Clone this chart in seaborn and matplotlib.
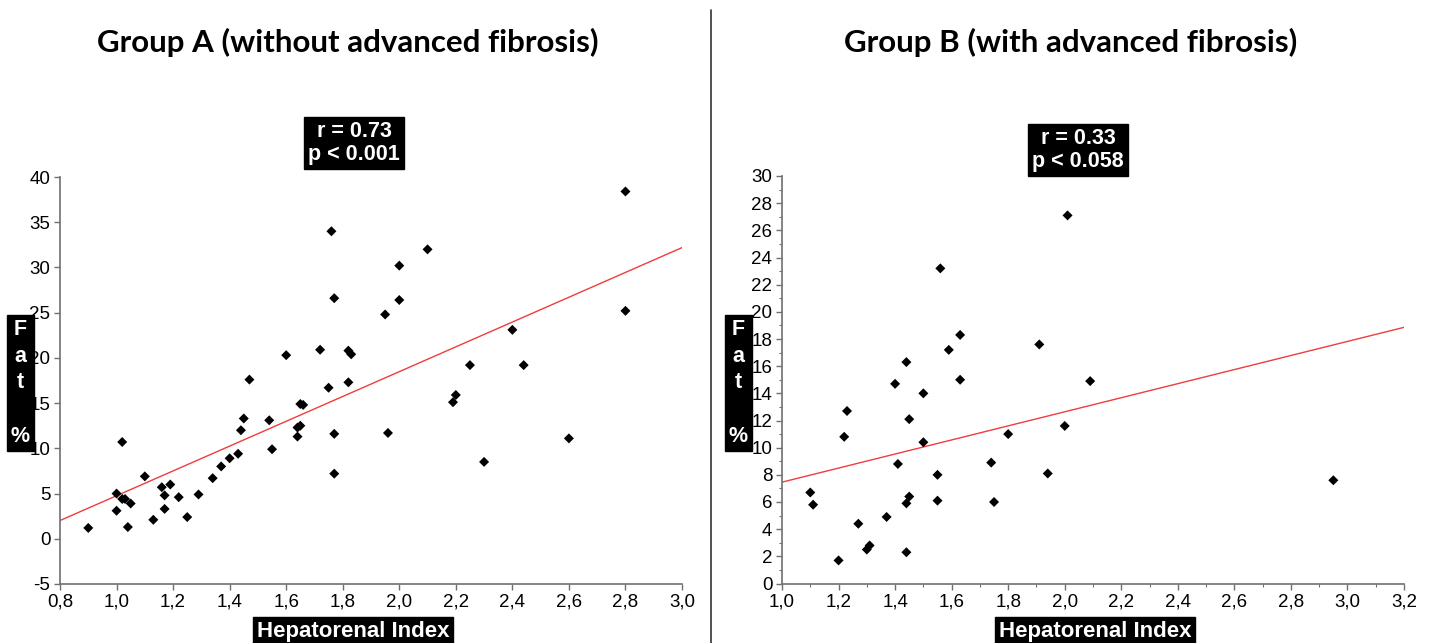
import numpy as np
import pandas as pd
import matplotlib
matplotlib.use("Agg")
import matplotlib.pyplot as plt
from matplotlib.ticker import FixedLocator, MultipleLocator
import seaborn as sns

# ---------------- data ----------------
a_hri = [0.90, 1.00, 1.00, 1.02, 1.02, 1.03, 1.04, 1.05, 1.10, 1.13, 1.16, 1.17, 1.17,
         1.19, 1.22, 1.25, 1.29, 1.34, 1.37, 1.40, 1.43, 1.44, 1.45, 1.47, 1.54, 1.55,
         1.64, 1.64, 1.65, 1.65, 1.66, 1.75, 1.77, 1.77, 1.82,
         1.76, 1.77, 1.60, 1.72, 1.82, 1.83,
         2.80, 2.10, 2.00, 2.00, 1.95, 2.80, 2.40, 2.25, 2.44, 2.20, 2.19, 1.96, 2.60, 2.30]
a_fat = [1.2, 5.0, 3.1, 10.7, 4.4, 4.4, 1.3, 3.9, 6.9, 2.1, 5.7, 4.8, 3.3,
         6.0, 4.6, 2.4, 4.9, 6.7, 8.0, 8.9, 9.4, 12.0, 13.3, 17.6, 13.1, 9.9,
         11.3, 12.3, 12.5, 14.9, 14.8, 16.7, 11.6, 7.2, 17.3,
         34.0, 26.6, 20.3, 20.9, 20.8, 20.4,
         38.4, 32.0, 30.2, 26.4, 24.8, 25.2, 23.1, 19.2, 19.2, 15.9, 15.1, 11.7, 11.1, 8.5]

b_hri = [1.10, 1.11, 1.20, 1.22, 1.23, 1.27, 1.30, 1.31, 1.37, 1.40, 1.41, 1.44, 1.44,
         1.45, 1.45, 1.50, 1.50, 1.55, 1.55, 1.63, 1.74, 1.75, 1.80, 1.94, 2.00,
         2.01, 1.56, 1.63, 1.59, 1.44, 1.91, 2.09, 2.95]
b_fat = [6.7, 5.8, 1.7, 10.8, 12.7, 4.4, 2.5, 2.8, 4.9, 14.7, 8.8, 5.9, 2.3,
         12.1, 6.4, 14.0, 10.4, 8.0, 6.1, 15.0, 8.9, 6.0, 11.0, 8.1, 11.6,
         27.1, 23.2, 18.3, 17.2, 16.3, 17.6, 14.9, 7.6]

a_xticks = [0.8, 1.0, 1.2, 1.4, 1.6, 1.8, 2.0, 2.2, 2.4, 2.6, 2.8, 3.0]
a_xticklabels = ["0,8", "1,0", "1,2", "1,4", "1,6", "1,8", "2,0", "2,2", "2,4", "2,6", "2,8", "3,0"]
a_yticks = [-5, 0, 5, 10, 15, 20, 25, 30, 35, 40]
a_yticklabels = ["-5", "0", "5", "10", "15", "20", "25", "30", "35", "40"]

b_xticks = [1.0, 1.2, 1.4, 1.6, 1.8, 2.0, 2.2, 2.4, 2.6, 2.8, 3.0, 3.2]
b_xticklabels = ["1,0", "1,2", "1,4", "1,6", "1,8", "2,0", "2,2", "2,4", "2,6", "2,8", "3,0", "3,2"]
b_yticks = list(range(0, 31, 2))
b_yticklabels = [str(v) for v in b_yticks]

titles = ["Group A (without advanced fibrosis)", "Group B (with advanced fibrosis)"]
stats = ["r = 0.73\np < 0.001", "r = 0.33\np < 0.058"]
xlabel = "Hepatorenal Index"
ylabel = "F\na\nt\n\n%"

df_a = pd.DataFrame({"hri": a_hri, "fat": a_fat})
df_b = pd.DataFrame({"hri": b_hri, "fat": b_fat})

# ---------------- figure ----------------
sns.set_theme(style="white")
plt.rcParams["font.family"] = ["Liberation Sans", "DejaVu Sans"]

W, H = 1429, 643
fig = plt.figure(figsize=(W / 100, H / 100), dpi=100)

def frac_rect(x0, y_top, x1, y_bot):
    return [x0 / W, 1 - y_bot / H, (x1 - x0) / W, (y_bot - y_top) / H]

ax_a = fig.add_axes(frac_rect(60, 177, 682, 584))
ax_b = fig.add_axes(frac_rect(782, 176, 1404, 583.5))

panels = [
    (ax_a, df_a, a_xticks, a_xticklabels, a_yticks, a_yticklabels, (0.8, 3.0), (-5, 40), False),
    (ax_b, df_b, b_xticks, b_xticklabels, b_yticks, b_yticklabels, (1.0, 3.2), (0, 30), True),
]

spine_col = "#707070"
for ax, df, xt, xtl, yt, ytl, xlim, ylim, minors in panels:
    ax.set_xlim(*xlim)
    ax.set_ylim(*ylim)
    sns.regplot(data=df, x="hri", y="fat", ax=ax, ci=None, truncate=False, marker="D",
                scatter_kws=dict(s=26, color="black", edgecolors="none", alpha=1, zorder=3),
                line_kws=dict(color="#f03c3c", lw=1.0, zorder=2))
    ax.set_xlim(*xlim)
    ax.set_ylim(*ylim)
    ax.xaxis.set_major_locator(FixedLocator(xt))
    ax.set_xticklabels(xtl)
    ax.yaxis.set_major_locator(FixedLocator(yt))
    ax.set_yticklabels(ytl)
    if minors:
        ax.xaxis.set_minor_locator(MultipleLocator(0.1))
        ax.yaxis.set_minor_locator(MultipleLocator(1))
    ax.set_xlabel("")
    ax.set_ylabel("")
    for s in ["top", "right"]:
        ax.spines[s].set_visible(False)
    for s in ["left", "bottom"]:
        ax.spines[s].set_color(spine_col)
        ax.spines[s].set_linewidth(1.2)
    ax.spines["left"].set_bounds(*ylim)
    ax.spines["bottom"].set_bounds(*xlim)
    ax.tick_params(axis="both", which="major", direction="out", length=4, width=1,
                   color=spine_col, labelsize=13.5, labelcolor="black", pad=3,
                   left=True, bottom=True)
    ax.tick_params(axis="both", which="minor", direction="out", length=2.5, width=0.8,
                   color=spine_col, left=True, bottom=True)
    ax.patch.set_alpha(0)

# titles
title_font = dict(family=["Lato", "DejaVu Sans"], fontweight="bold", fontsize=22.5, color="black")
fig.text(348 / W, 1 - 42 / H, titles[0], ha="center", va="center", **title_font)
fig.text(1071 / W, 1 - 42 / H, titles[1], ha="center", va="center", **title_font)

# stats boxes
box = dict(boxstyle="square,pad=0.2", fc="black", ec="black")
for cx, cy, txt in [(354, 143, stats[0]), (1078, 150, stats[1])]:
    fig.text(cx / W, 1 - cy / H, txt, ha="center", va="center", color="white",
             fontsize=15.5, fontweight="bold", linespacing=1.1, bbox=box)

# y labels
for cx in [20.5, 738.5]:
    fig.text(cx / W, 1 - 383 / H, ylabel, ha="center", va="center", color="white",
             fontsize=15.5, fontweight="bold", linespacing=1.35,
             bbox=dict(boxstyle="square,pad=0.2", fc="black", ec="black"))

# x labels
for cx in [353, 1095]:
    fig.text(cx / W, 1 - 631 / H, xlabel, ha="center", va="center", color="white",
             fontsize=16, fontweight="bold",
             bbox=dict(boxstyle="square,pad=0.15", fc="black", ec="black"))

# divider
fig.add_artist(plt.Line2D([711 / W, 711 / W], [0, 1 - 10 / H], color="#333333", lw=1.2))

fig.savefig("out.png", dpi=100)
